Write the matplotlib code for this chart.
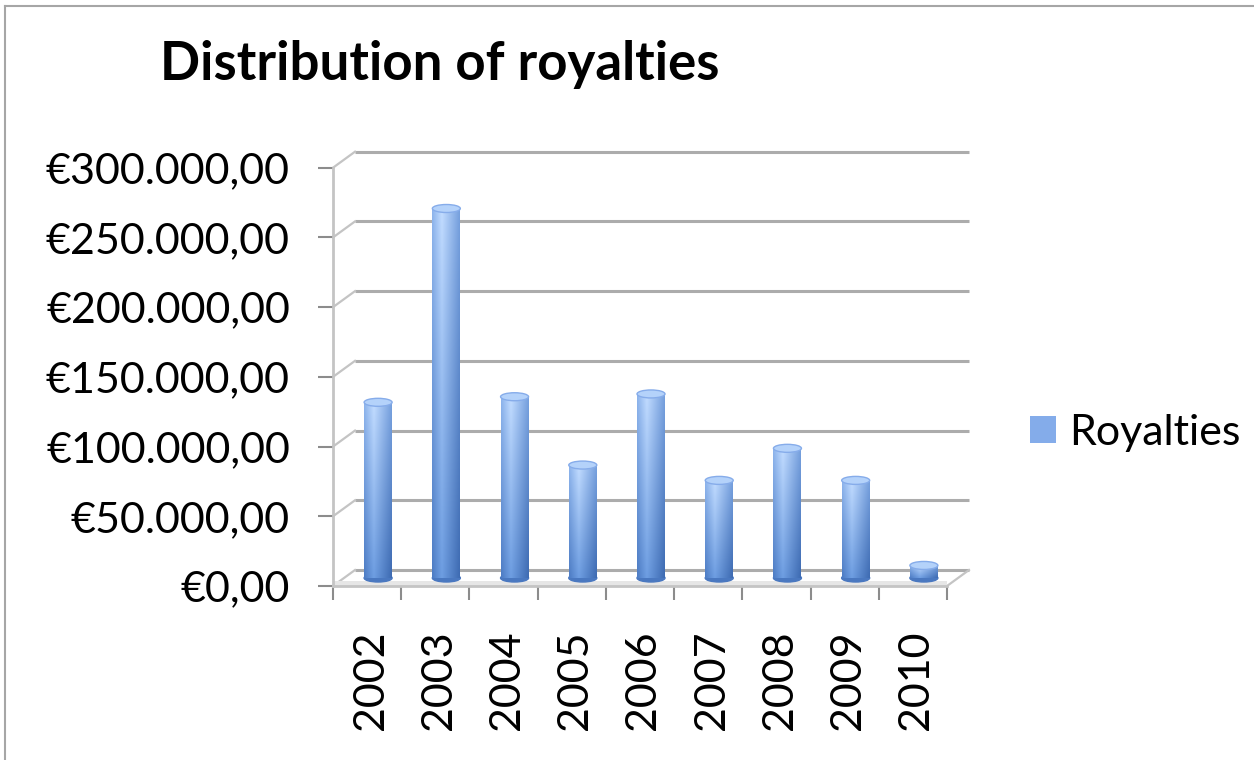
import numpy as np
import matplotlib
matplotlib.use("Agg")
import matplotlib.pyplot as plt
from matplotlib.patches import Ellipse, Patch
from matplotlib.lines import Line2D
from matplotlib.ticker import FuncFormatter, FixedLocator
from matplotlib.colors import to_rgb

# data
years = ["2002", "2003", "2004", "2005", "2006", "2007", "2008", "2009", "2010"]
royalties = [126000, 265000, 130000, 81000, 132000, 70000, 93000, 70000, 9000]
y_ticks = [0, 50000, 100000, 150000, 200000, 250000, 300000]
series_name = "Royalties"
title = "Distribution of royalties"

plt.rcParams["font.family"] = ["Lato", "DejaVu Sans"]

W, H, DPI = 1254, 760, 100
fig = plt.figure(figsize=(W / DPI, H / DPI), dpi=DPI)

# front plane of the pseudo 3d box, in pixels
x0, x1 = 333, 947
y_zero, y_top = 586, 167.7
ax = fig.add_axes([x0 / W, (H - y_zero) / H, (x1 - x0) / W, (y_zero - y_top) / H])
n = len(years)
ymax = y_ticks[-1]
ax.set_xlim(0, n)
ax.set_ylim(0, ymax)

# depth of the box: pixels -> data units
px_x = n / (x1 - x0)
px_y = ymax / (y_zero - y_top)
dx, dy = 22 * px_x, 16 * px_y

grid_col = "#acacac"
for v in y_ticks:
    ax.plot([dx, n + dx], [v + dy, v + dy], color=grid_col, lw=2.2,
            clip_on=False, zorder=1, solid_capstyle="butt")
    ax.plot([0, dx], [v, v + dy], color="#c4c4c4", lw=1.6, clip_on=False, zorder=1)
# right side of the floor
ax.plot([n, n + dx], [0, dy], color="#c4c4c4", lw=1.6, clip_on=False, zorder=1)
# floor front edge
ax.fill_between([0, n], [0, 0], [dy * 0.3, dy * 0.3], color="#e6e6e6", zorder=1,
                clip_on=False, lw=0)


def bar_gradient(nx=40, ny=60):
    pos = [0.0, 0.35, 1.0]
    top = np.array([to_rgb(c) for c in ["#8db4ec", "#c2dcff", "#76a0de"]])
    bot = np.array([to_rgb(c) for c in ["#4d7cc4", "#6e9ee2", "#3e6bb2"]])
    xs = np.linspace(0, 1, nx)
    t_row = np.stack([np.interp(xs, pos, top[:, k]) for k in range(3)], axis=1)
    b_row = np.stack([np.interp(xs, pos, bot[:, k]) for k in range(3)], axis=1)
    f = np.linspace(0, 1, ny)[:, None, None]
    return t_row[None] * (1 - f) + b_row[None] * f


grad = bar_gradient()
bw = 28 * px_x
eh = 8 * px_y
for i, v in enumerate(royalties):
    cx = i + 0.5 + dx / 2
    base = dy / 2
    ax.add_patch(Ellipse((cx, base), bw, eh, color="#4a78c0", zorder=2, clip_on=False))
    ax.imshow(grad, extent=[cx - bw / 2, cx + bw / 2, base, base + v], aspect="auto",
              interpolation="bilinear", zorder=3, clip_on=False)
    ax.add_patch(Ellipse((cx, base + v), bw, eh, facecolor="#b4d2fa",
                         edgecolor="#86acea", lw=1.0, zorder=4, clip_on=False))

ax.set_xlim(0, n)
ax.set_ylim(0, ymax)

# axes
for s in ["top", "right"]:
    ax.spines[s].set_visible(False)
for s in ["left", "bottom"]:
    ax.spines[s].set_color("#c4c4c4")
    ax.spines[s].set_linewidth(2.0)

fmt = FuncFormatter(lambda v, p: "€" + f"{v:,.2f}".replace(",", "X").replace(".", ",").replace("X", "."))
ax.yaxis.set_major_locator(FixedLocator(y_ticks))
ax.yaxis.set_major_formatter(fmt)
ax.tick_params(axis="y", length=11, width=1.5, color="#8c8c8c", pad=20, labelsize=31)

ax.set_xticks(np.arange(n + 1))
ax.set_xticklabels([])
ax.set_xticks(np.arange(n) + 0.55, minor=True)
ax.set_xticklabels(years, minor=True, rotation=90, fontsize=31)
ax.tick_params(axis="x", which="major", length=10, width=1.5, color="#8c8c8c")
ax.tick_params(axis="x", which="minor", length=0, pad=32)
ax.set_facecolor("none")

fig.text(160 / W, (H - 80) / H, title, fontsize=38, fontweight="bold", va="baseline")

leg = fig.legend(handles=[Patch(facecolor="#84acea", edgecolor="none", label=series_name)],
                 loc="center left", bbox_to_anchor=(1030 / W, (H - 433) / H),
                 frameon=False, fontsize=31, handlelength=0.6, handleheight=0.6,
                 handletextpad=0.3, borderpad=0, borderaxespad=0)

# chart frame (left and top edges visible)
fig.add_artist(Line2D([5 / W, 5 / W], [0, (H - 6) / H], color="#a6a6a6", lw=1.5,
                      transform=fig.transFigure))
fig.add_artist(Line2D([5 / W, 1], [(H - 6) / H, (H - 6) / H], color="#a6a6a6", lw=1.5,
                      transform=fig.transFigure))

fig.savefig("out.png", dpi=DPI)
